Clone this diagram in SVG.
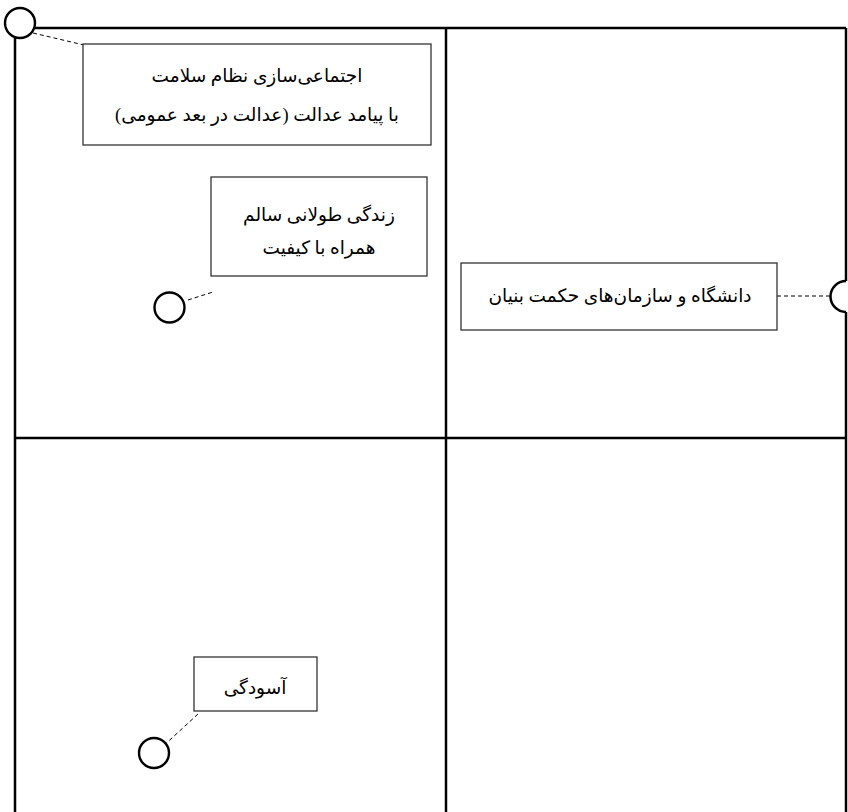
<svg xmlns="http://www.w3.org/2000/svg" width="848" height="812" viewBox="0 0 848 812">
<style>
.frame{stroke:#000;stroke-width:2.5;fill:none}
.box{fill:#fff;stroke:#333;stroke-width:1.3}
.port{fill:#fff;stroke:#000;stroke-width:2.4}
.dash{stroke:#000;stroke-width:1;stroke-dasharray:4,3;fill:none}
.t{font-family:"Liberation Serif","DejaVu Sans",serif;font-size:18.5px;fill:#000;text-anchor:middle}
</style>
<rect width="848" height="812" fill="#fff"/>
<g id="grid">
<path class="frame" d="M35,28 H846 M15,38 V812 M446,28 V812 M15,438 H846 M846,28 V281 M846,312 V812"/>
<path class="frame" d="M846,281 A15.5,15.5 0 0 0 846,312"/>
</g>
<g id="connectors">
<line class="dash" x1="33" y1="33" x2="84" y2="45"/>
<line class="dash" x1="188" y1="300" x2="213" y2="292"/>
<line class="dash" x1="777" y1="296" x2="830" y2="296"/>
<line class="dash" x1="159" y1="750" x2="198" y2="714"/>
</g>
<g id="port1"><circle class="port" cx="20" cy="23" r="15"/></g>
<g id="port2"><circle class="port" cx="169.5" cy="307.5" r="15"/></g>
<g id="port3"><circle class="port" cx="154" cy="753" r="15"/></g>
<g id="node1">
<rect class="box" x="83" y="44" width="348" height="101"/>
<text class="t" x="257" y="82" direction="rtl">اجتماعی‌سازی نظام سلامت</text>
<text class="t" x="257" y="121" direction="rtl">با پیامد عدالت (عدالت در بعد عمومی)</text>
</g>
<g id="node2">
<rect class="box" x="211" y="177" width="216" height="99"/>
<text class="t" x="319" y="221" direction="rtl">زندگی طولانی سالم</text>
<text class="t" x="319" y="254" direction="rtl">همراه با کیفیت</text>
</g>
<g id="node3">
<rect class="box" x="461" y="263" width="316" height="67"/>
<text class="t" x="620" y="302" direction="rtl">دانشگاه و سازمان‌های حکمت بنیان</text>
</g>
<g id="node4">
<rect class="box" x="194" y="657" width="123" height="54"/>
<text class="t" x="255" y="694" direction="rtl">آسودگی</text>
</g>
</svg>
